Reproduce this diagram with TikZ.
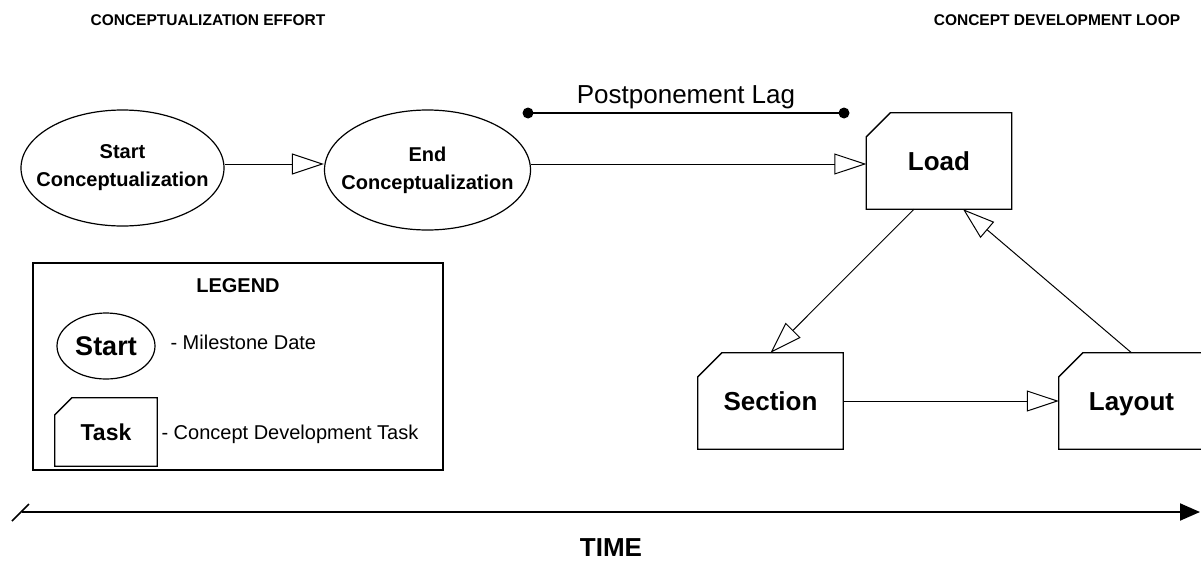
\documentclass[tikz,border=0pt]{standalone}
\usepackage{fontspec}
\setmainfont{Liberation Sans}
\usetikzlibrary{arrows.meta,shapes.geometric}

\tikzset{
  milestone/.style={ellipse, draw, line width=1.2pt, align=center, inner xsep=-40pt, inner ysep=0pt,
    font=\bfseries\fontsize{20}{28}\selectfont},
  task/.style={rectangle, minimum width=145pt, minimum height=96pt, inner sep=0pt,
    text height=18.7pt, text depth=0pt, font=\bfseries\fontsize{26}{31}\selectfont},
  boxline/.style={line width=1.3pt, line join=miter},
  flow/.style={line width=1pt, -{Triangle[open, length=32pt, width=21pt]}},
  heading/.style={font=\bfseries\fontsize{15.5}{18}\selectfont},
  legendtext/.style={anchor=west, font=\fontsize{20}{24}\selectfont},
}
% outline of a task box, top left corner cut off
\newcommand{\taskshape}[2][24]{%
  \draw[boxline] (#2.south west) -- ([yshift=-#1pt]#2.north west) -- ([xshift=#1pt]#2.north west)
    -- (#2.north east) -- (#2.south east) -- cycle;}

\begin{document}
\begin{tikzpicture}[x=1pt,y=-1pt]
\clip (0,0) rectangle (1201,565);
\node[heading] (effort) at (208,20) {CONCEPTUALIZATION EFFORT};
\node[heading] (loop) at (1057,20) {CONCEPT DEVELOPMENT LOOP};

\node[milestone, minimum width=203pt, minimum height=116pt] (startc) at (122.5,168) {Start\\Conceptualization};
\node[milestone, minimum width=206pt, minimum height=120pt] (endc) at (427.5,170) {End\\Conceptualization};

\node[task] (load) at (939,161) {Load};
\node[task] (section) at (770.5,401) {Section};
\node[task] (layout) at (1131.5,401) {Layout};
\foreach \n in {load,section,layout}
   {\taskshape{\n}}

\draw[flow] ([yshift=4pt]startc.east) -- ([yshift=4pt]startc.east -| endc.west);
\draw[flow] ([yshift=6pt]endc.east) -- ([yshift=6pt]endc.east -| load.west);
\draw[flow] ([xshift=-25pt]load.south) -- (section.north);
\draw[flow] (section.east) -- (layout.west);
\draw[flow] (layout.north) -- ([xshift=24pt]load.south);

% lag between the end of conceptualization and the loop
\coordinate (lagA) at (528,113);
\coordinate (lagB) at (844,113);
\draw[line width=1.2pt] (lagA) -- (lagB)
   node[midway, above, inner sep=4pt, font=\fontsize{26}{31}\selectfont] (lag) {Postponement Lag};
\fill (lagA) circle (5.5pt) (lagB) circle (5.5pt);

% legend
\node[draw, boxline, minimum width=410pt, minimum height=207pt] (legend) at (238,366.5) {};
\node[font=\bfseries\fontsize{20}{24}\selectfont] (legtitle) at (238,286) {LEGEND};
\node[milestone, inner xsep=0pt, minimum width=98pt, minimum height=66pt, font=\bfseries\fontsize{27}{32}\selectfont] (legstart) at (106,346) {Start};
\node[legendtext] (legstarttext) at (167,342) {- Milestone Date};
\node[task, minimum width=102pt, minimum height=68pt, text height=16.5pt, font=\bfseries\fontsize{23}{28}\selectfont] (legtask) at (106,432) {Task};
\taskshape[17]{legtask}
\node[legendtext] (legtasktext) at (158,434) {- Concept Development Task};

% time axis
\coordinate (t0) at (22,512);
\coordinate (t1) at (1200,512);
\draw[line width=2pt, -{Triangle[length=20pt, width=17pt]}] (t0) -- (t1);
\draw[line width=1.5pt] (12,521) -- (29,504);
\node[font=\bfseries\fontsize{26}{31}\selectfont] (time) at (611,548) {TIME};
\end{tikzpicture}
\end{document}
